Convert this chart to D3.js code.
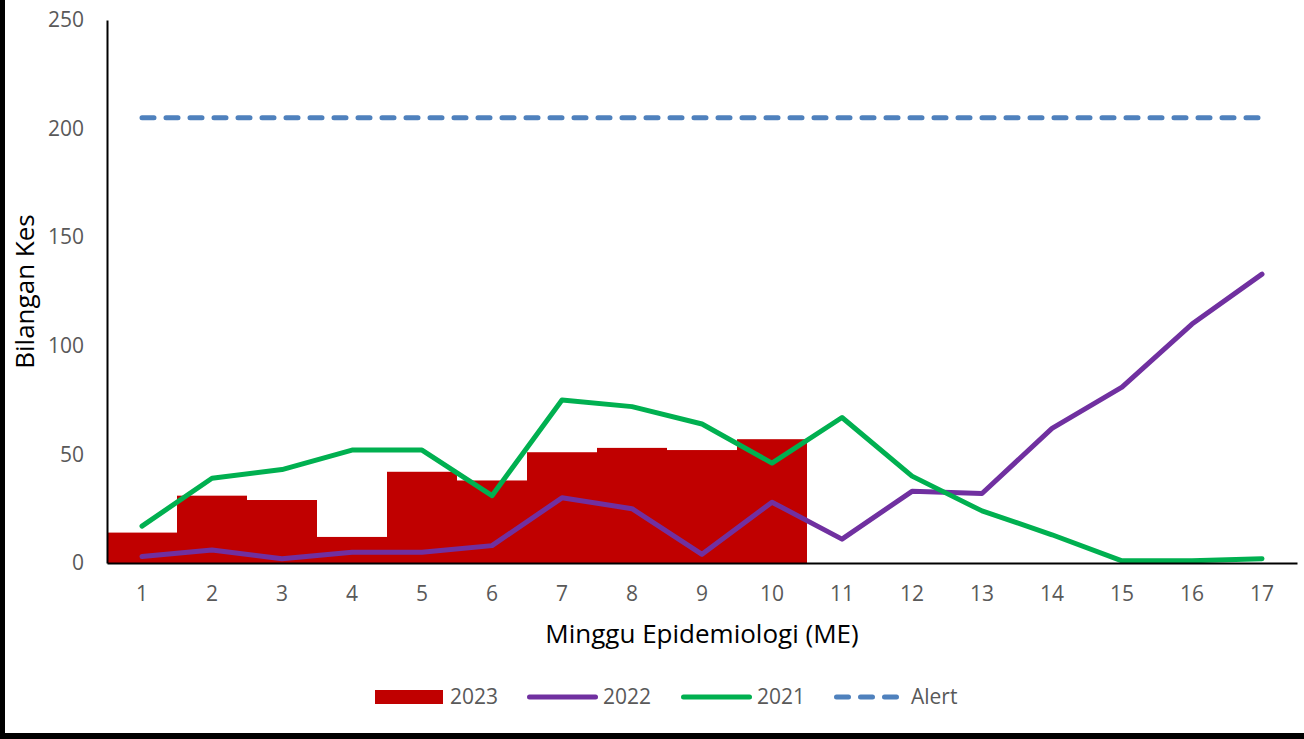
<style>
    body
    {
        margin:0;
        background:white;
    }
    text
    {
        font-family:"Open Sans", "Liberation Sans", sans-serif;
    }
</style>
<script src="https://d3js.org/d3.v7.min.js"></script>
<svg id="chart"></svg>
<script>
    // data
    var weeks = ["1","2","3","4","5","6","7","8","9","10","11","12","13","14","15","16","17"];
    var cases2023 = [14,31,29,12,42,38,51,53,52,57];
    var cases2022 = [3,6,2,5,5,8,30,25,4,28,11,33,32,62,81,110,133];
    var cases2021 = [17,39,43,52,52,31,75,72,64,46,67,40,24,13,1,1,2];
    var alertLevel = 205;
    var yTicks = [0,50,100,150,200,250];
    var seriesNames = ["2023","2022","2021","Alert"];

    var screen = {width:1304,height:739};
    var margin = {left:107,right:7,top:20,bottom:176};

    var svg = d3.select("#chart")
        .attr("width",screen.width)
        .attr("height",screen.height);

    var xScale = d3.scaleBand()
        .domain(weeks)
        .range([margin.left,screen.width-margin.right])
        .padding(0);
    var yScale = d3.scaleLinear()
        .domain([0,250])
        .range([screen.height-margin.bottom,margin.top]);

    var xMid = function(d,i){ return xScale(weeks[i])+xScale.bandwidth()/2; };

    // bars 2023
    svg.append("g")
        .selectAll("rect")
        .data(cases2023)
        .enter()
        .append("rect")
        .attr("x",function(d,i){ return xScale(weeks[i]); })
        .attr("y",function(d){ return yScale(d); })
        .attr("width",xScale.bandwidth())
        .attr("height",function(d){ return yScale(0)-yScale(d); })
        .attr("fill","#C00000");

    var line = d3.line()
        .x(xMid)
        .y(function(d){ return yScale(d); });

    svg.append("path")
        .datum(cases2022)
        .attr("d",line)
        .attr("fill","none")
        .attr("stroke","#7030A0")
        .attr("stroke-width",5)
        .attr("stroke-linecap","round")
        .attr("stroke-linejoin","round");

    svg.append("path")
        .datum(cases2021)
        .attr("d",line)
        .attr("fill","none")
        .attr("stroke","#00B050")
        .attr("stroke-width",5)
        .attr("stroke-linecap","round")
        .attr("stroke-linejoin","round");

    svg.append("path")
        .datum(weeks.map(function(){ return alertLevel; }))
        .attr("d",line)
        .attr("fill","none")
        .attr("stroke","#4F81BD")
        .attr("stroke-width",5)
        .attr("stroke-linecap","round")
        .attr("stroke-dasharray","12,12");

    // axes
    var xAxis = svg.append("g")
        .attr("transform","translate(0,"+yScale(0)+")")
        .call(d3.axisBottom(xScale).tickSize(0).tickPadding(23));
    xAxis.select(".domain").attr("stroke","black").attr("stroke-width",2);
    xAxis.selectAll("text").attr("font-size",21).attr("fill","#595959")
        .style("font-family","'Open Sans', sans-serif");

    var yAxis = svg.append("g")
        .attr("transform","translate("+margin.left+",0)")
        .call(d3.axisLeft(yScale).tickValues(yTicks).tickSize(0).tickPadding(23));
    yAxis.select(".domain").attr("stroke","black").attr("stroke-width",2);
    yAxis.selectAll("text").attr("font-size",21).attr("fill","#595959")
        .style("font-family","'Open Sans', sans-serif");

    // titles
    svg.append("text")
        .attr("x",(margin.left+screen.width-margin.right)/2)
        .attr("y",643)
        .attr("text-anchor","middle")
        .attr("font-size",26)
        .attr("fill","black")
        .text("Minggu Epidemiologi (ME)");

    svg.append("text")
        .attr("transform","translate(34,"+((yScale(0)+yScale(250))/2)+") rotate(-90)")
        .attr("text-anchor","middle")
        .attr("font-size",26)
        .attr("fill","black")
        .text("Bilangan Kes");

    // legend
    var legend = svg.append("g");
    legend.append("rect")
        .attr("x",375).attr("y",690).attr("width",68).attr("height",14)
        .attr("fill","#C00000");
    legend.append("line")
        .attr("x1",529.5).attr("x2",595.5).attr("y1",697).attr("y2",697)
        .attr("stroke","#7030A0").attr("stroke-width",5).attr("stroke-linecap","round");
    legend.append("line")
        .attr("x1",683.5).attr("x2",749.5).attr("y1",697).attr("y2",697)
        .attr("stroke","#00B050").attr("stroke-width",5).attr("stroke-linecap","round");
    legend.append("line")
        .attr("x1",836.5).attr("x2",896.5).attr("y1",697).attr("y2",697)
        .attr("stroke","#4F81BD").attr("stroke-width",5).attr("stroke-linecap","round")
        .attr("stroke-dasharray","12,12");
    var legendX = [450,603,757,911];
    legend.selectAll(".lbl")
        .data(seriesNames)
        .enter()
        .append("text")
        .attr("class","lbl")
        .attr("x",function(d,i){ return legendX[i]; })
        .attr("y",704)
        .attr("font-size",21)
        .attr("fill","#595959")
        .text(function(d){ return d; });

    // frame edges
    svg.append("rect").attr("x",0).attr("y",0).attr("width",5).attr("height",screen.height).attr("fill","black");
    svg.append("rect").attr("x",0).attr("y",733).attr("width",screen.width).attr("height",6).attr("fill","black");
</script>
